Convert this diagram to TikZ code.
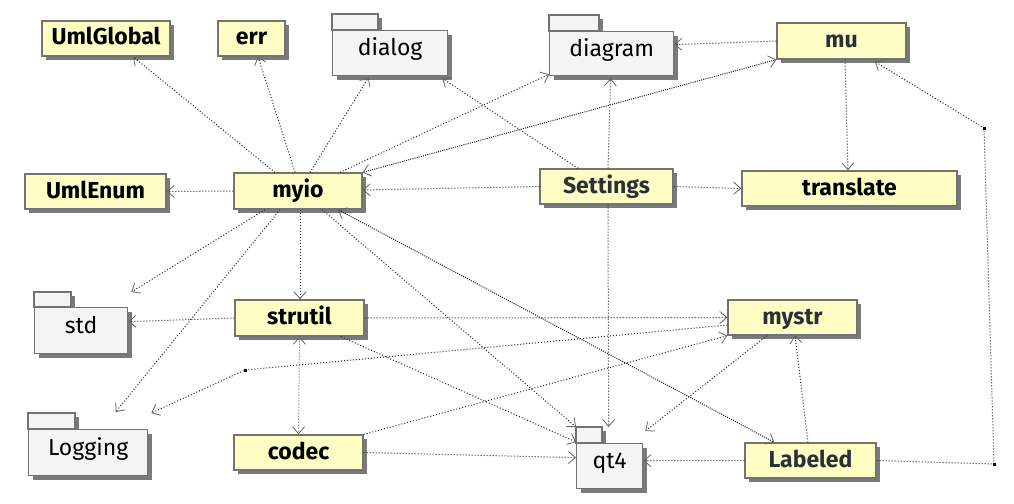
\documentclass[tikz,border=0pt]{standalone}
\usepackage{fontspec}
\setmainfont{Fira Sans}
\usetikzlibrary{arrows.meta,shadows,calc}
\definecolor{clsfill}{HTML}{FEFEC4}
\definecolor{pkgfill}{HTML}{F4F4F4}
\definecolor{slate}{HTML}{2B3038}
\tikzset{deptip/.tip={Straight Barb[length=7pt,width=12pt,line width=0.8pt,color=black!60]}}
\begin{document}
\begin{tikzpicture}[x=1pt,y=-1pt,
  shd/.style={drop shadow={shadow xshift=4pt,shadow yshift=-4pt,fill=black!52,opacity=1}},
  cls/.style={shd,draw=black!55,line width=1.3pt,fill=clsfill,minimum height=35pt,inner sep=0pt,text height=15pt,text depth=2pt,font=\fontsize{23}{26}\selectfont\bfseries},
  pkg/.style={shd,draw=black!55,line width=1.3pt,fill=pkgfill,inner sep=0pt,text height=13pt,text depth=8pt,font=\fontsize{23}{26}\selectfont},
  dep/.style={draw=black!85,line width=1pt,dash pattern=on 1pt off 2pt,-{deptip}},
  dbl/.style={draw=black!90,line width=1pt,dash pattern=on 1pt off 1.2pt,{deptip}-{deptip}},
  bendpt/.style={fill=black,minimum size=3pt,inner sep=0pt},
]
\useasboundingbox[fill=white] (0,0) rectangle (1014,503);

% classes
\node[cls,minimum width=128pt] (UmlGlobal) at (106,38.5) {UmlGlobal};
\node[cls,minimum width=67pt] (err) at (251.5,38.5) {err};
\node[cls,minimum width=129pt,minimum height=36pt,text=slate] (mu) at (841.5,41) {mu};
\node[cls,minimum width=141pt] (UmlEnum) at (95.5,191.5) {UmlEnum};
\node[cls,minimum width=128pt,minimum height=36pt] (myio) at (298,191) {myio};
\node[cls,minimum width=133pt,text=slate] (Settings) at (606.5,186.5) {Settings};
\node[cls,minimum width=215pt] (translate) at (849.5,188.5) {translate};
\node[cls,minimum width=129pt,minimum height=36pt] (strutil) at (299.5,318) {strutil};
\node[cls,minimum width=129pt,text=slate] (mystr) at (792.5,317.5) {mystr};
\node[cls,minimum width=129pt] (codec) at (298.5,452.5) {codec};
\node[cls,minimum width=131pt,text=slate] (Labeled) at (810.5,460.5) {Labeled};

% packages
\filldraw[pkg] (332,14) rectangle (378,30);
\node[pkg,anchor=north west,minimum width=115pt,minimum height=45pt] (dialog) at (332,30) {dialog};
\filldraw[pkg] (549,15) rectangle (599,31);
\node[pkg,anchor=north west,minimum width=124pt,minimum height=44pt] (diagram) at (549,31) {diagram};
\filldraw[pkg] (34,292) rectangle (71,307);
\node[pkg,anchor=north west,minimum width=93pt,minimum height=46pt] (std) at (34,307) {std};
\filldraw[pkg] (28,413) rectangle (75,429);
\node[pkg,anchor=north west,minimum width=119pt,minimum height=46pt] (Logging) at (28,429) {Logging};
\filldraw[pkg] (576,427) rectangle (602,443);
\node[pkg,anchor=north west,minimum width=66pt,minimum height=45pt] (qt4) at (576,443) {qt4};

% bend points
\node[bendpt] (b1) at (984,128) {};
\node[bendpt] (b2) at (994,464) {};
\node[bendpt] (b3) at (245,370) {};

% dependencies
\draw[dep] ([xshift=-23pt]myio.north) -- ([xshift=27pt]UmlGlobal.south);
\draw[dep] ([xshift=-3pt]myio.north) -- ([xshift=6.5pt]err.south);
\draw[dep] ([xshift=12pt]myio.north) -- ([shift={(-21.5pt,-1pt)}]dialog.south);
\draw[dep] ([xshift=42pt]myio.north) -- ([yshift=2pt]diagram.south west);
\draw[dbl] (myio.north east) -- (mu.south west);
\draw[dep] (Settings.west) -- ([yshift=1pt]myio.east);
\draw[dep] ([xshift=-28.5pt]Settings.north) -- ([shift={(-6pt,-2pt)}]dialog.south east);
\draw[dep] ([xshift=1.5pt]Settings.north) -- ([shift={(-1pt,-2pt)}]diagram.south);
\draw[dep] (Settings.east) -- (translate.west);
\draw[dep] (mu.west) -- ([yshift=9pt]diagram.east);
\draw[dep] ([xshift=3.5pt]mu.south) -- ([xshift=-1.5pt]translate.north);
\draw[dep] (Labeled.east) -- (b2.center) -- (b1.center) -- ([xshift=33.5pt,yshift=-2pt]mu.south);
\draw[dep] (myio.west) -- (UmlEnum.east);
\draw[dep] ([xshift=-33pt]myio.south) -- ([shift={(3pt,15pt)}]std.north east);
\draw[dep] ([xshift=-18pt]myio.south) -- ([shift={(27.5pt,17pt)}]Logging.north);
\draw[dep] ([xshift=2pt]myio.south) -- ([xshift=0.5pt]strutil.north);
\draw[dep] ([xshift=24pt]myio.south) -- ([yshift=16pt]qt4.north west);
\draw[dbl] ([xshift=40pt]myio.south) -- ([xshift=30pt]Labeled.north west);
\draw[dep] (strutil.west) -- ([yshift=9pt]std.east);
\draw[dep] (strutil.east) -- (mystr.west);
\draw[dep] ([xshift=41.5pt]strutil.south) -- ([yshift=1pt]qt4.north west);
\draw[dep,draw=black!60,{deptip}-{deptip}] (strutil.south) -- (codec.north);
\draw[dep] (codec.east) -- ([yshift=8.5pt]qt4.west);
\draw[dep] (codec.north east) -- (mystr.south west);
\draw[dep] ([yshift=-7.5pt]mystr.west) -- (b3.center) -- ([shift={(3pt,16pt)}]Logging.north east);
\draw[dep] ([xshift=-25.5pt]mystr.south) -- ([shift={(2pt,12pt)}]qt4.north east);
\draw[dep] ([xshift=-2.5pt]Labeled.north) -- ([xshift=2.5pt]mystr.south);
\draw[dep] (Labeled.west) -- ([yshift=5.5pt]qt4.east);
\draw[dep] ([xshift=1.5pt]Settings.south) -- ([shift={(-1pt,16pt)}]qt4.north);
\end{tikzpicture}
\end{document}
